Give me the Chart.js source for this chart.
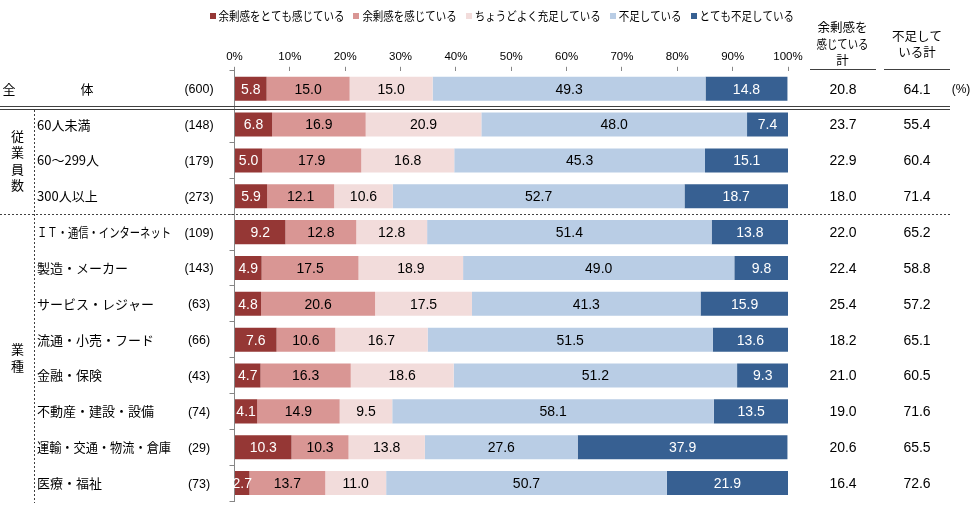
<!DOCTYPE html>
<html><head><meta charset="utf-8">
<script src="https://cdn.jsdelivr.net/npm/chart.js@4.4.1/dist/chart.umd.min.js"></script>
<style>html,body{margin:0;padding:0;background:#fff}canvas{display:block}</style>
</head><body>
<canvas id="c" width="976" height="510"></canvas>
<script>
const categories = ['全体','60人未満','60～299人','300人以上','ＩＴ・通信・インターネット','製造・メーカー','サービス・レジャー','流通・小売・フード','金融・保険','不動産・建設・設備','運輸・交通・物流・倉庫','医療・福祉'];
const sampleSizes = ['(600)','(148)','(179)','(273)','(109)','(143)','(63)','(66)','(43)','(74)','(29)','(73)'];
const seriesNames = ['余剰感をとても感じている','余剰感を感じている','ちょうどよく充足している','不足している','とても不足している'];
const verySurplus = [5.8,6.8,5.0,5.9,9.2,4.9,4.8,7.6,4.7,4.1,10.3,2.7];
const surplus = [15.0,16.9,17.9,12.1,12.8,17.5,20.6,10.6,16.3,14.9,10.3,13.7];
const adequate = [15.0,20.9,16.8,10.6,12.8,18.9,17.5,16.7,18.6,9.5,13.8,11.0];
const shortage = [49.3,48.0,45.3,52.7,51.4,49.0,41.3,51.5,51.2,58.1,27.6,50.7];
const severeShortage = [14.8,7.4,15.1,18.7,13.8,9.8,15.9,13.6,9.3,13.5,37.9,21.9];
const surplusTotal = [20.8,23.7,22.9,18.0,22.0,22.4,25.4,18.2,21.0,19.0,20.6,16.4];
const shortageTotal = [64.1,55.4,60.4,71.4,65.2,58.8,57.2,65.1,60.5,71.6,65.5,72.6];
const groupLabels = [{text:'従業員数', from:1, to:3},{text:'業種', from:4, to:11}];
const totalHeaders = [['余剰感を','感じている','計'],['不足して','いる計']];

const colors = ['#953735','#D99694','#F2DCDB','#B9CDE5','#376092'];
const labelColors = ['#ffffff','#000000','#000000','#000000','#ffffff'];
const seriesData = [verySurplus, surplus, adequate, shortage, severeShortage];

const JP = '"Noto Sans CJK JP", sans-serif';
const AR = '"Liberation Sans", Arial, sans-serif';

const overlay = {
  id:'overlay',
  afterDatasetsDraw(chart){
    const ctx = chart.ctx;
    ctx.save();
    ctx.font = '14px ' + AR;
    ctx.textAlign = 'center';
    ctx.textBaseline = 'middle';
    chart.data.datasets.forEach((ds, di) => {
      const meta = chart.getDatasetMeta(di);
      meta.data.forEach((bar, i) => {
        const v = ds.data[i];
        ctx.fillStyle = labelColors[di];
        ctx.fillText(v.toFixed(1), (bar.x + bar.base) / 2, bar.y + 1);
      });
    });
    ctx.restore();
  },
  afterDraw(chart){
    const ctx = chart.ctx;
    const ys = chart.scales.y;
    const area = chart.chartArea;
    const rowY = i => ys.getPixelForValue(i);
    const boundary = i => (rowY(i) + rowY(i+1)) / 2;
    ctx.save();
    // legend
    ctx.font = '12px ' + JP;
    ctx.textBaseline = 'middle';
    ctx.textAlign = 'left';
    const box = 6, gapBox = 3, gapItem = 9;
    const legLeft = 209.5, legRight = 794;
    const widths = seriesNames.map(s => ctx.measureText(s).width);
    const fixed = seriesNames.length*(box+gapBox) + (seriesNames.length-1)*gapItem;
    const sumW = widths.reduce((a,b)=>a+b,0);
    const scale = Math.min(1, (legRight - legLeft - fixed) / sumW);
    let lx = legLeft;
    const ly = 16.5;
    seriesNames.forEach((s, i) => {
      const w = widths[i] * scale;
      ctx.fillStyle = colors[i];
      ctx.fillRect(Math.round(lx), 13, box, box);
      ctx.fillStyle = '#000';
      ctx.fillText(s, lx + box + gapBox, ly, w);
      lx += box + gapBox + w + gapItem;
    });
    // row labels
    ctx.fillStyle = '#000';
    categories.forEach((c, i) => {
      const y = rowY(i);
      ctx.font = '13px ' + JP;
      ctx.textAlign = 'left';
      if (i === 0) {
        ctx.textAlign = 'center';
        ctx.fillText(c[0], 9, y);
        ctx.fillText(c[1], 87, y);
      } else {
        ctx.fillText(c, 37, y, 134);
      }
      ctx.font = '12.5px ' + AR;
      ctx.textAlign = 'center';
      ctx.fillText(sampleSizes[i], 199, y + 1);
      ctx.font = '14px ' + AR;
      ctx.fillText(surplusTotal[i].toFixed(1), 843, y + 1);
      ctx.fillText(shortageTotal[i].toFixed(1), 917, y + 1);
    });
    ctx.font = '12px ' + AR;
    ctx.textAlign = 'center';
    ctx.fillText('(%)', 961, rowY(0) + 1);
    // group labels (vertical)
    ctx.font = '13px ' + JP;
    groupLabels.forEach(g => {
      const cy = (rowY(g.from) + rowY(g.to)) / 2;
      const n = g.text.length, step = 16.5;
      for (let k = 0; k < n; k++) {
        ctx.fillText(g.text[k], 17.5, cy + (k - (n-1)/2) * step);
      }
    });
    // headers
    ctx.font = '12.5px ' + JP;
    const hx = [842.5, 917];
    totalHeaders.forEach((lines, h) => {
      const n = lines.length, step = 16.5, cy = 44;
      lines.forEach((t, k) => ctx.fillText(t, hx[h], cy + (k - (n-1)/2) * step, 52));
    });
    ctx.strokeStyle = '#404040';
    ctx.lineWidth = 1;
    ctx.beginPath();
    ctx.moveTo(810, 69.5); ctx.lineTo(876, 69.5);
    ctx.moveTo(884, 69.5); ctx.lineTo(950, 69.5);
    ctx.stroke();
    // double line under 全体
    const b0 = Math.round(boundary(0));
    ctx.beginPath();
    ctx.moveTo(0, b0 - 0.5); ctx.lineTo(950, b0 - 0.5);
    ctx.moveTo(0, b0 + 2.5); ctx.lineTo(950, b0 + 2.5);
    ctx.stroke();
    // dotted separators
    ctx.setLineDash([2, 2]);
    const b3 = Math.round(boundary(3));
    ctx.beginPath();
    ctx.moveTo(0, b3 + 0.5); ctx.lineTo(950, b3 + 0.5);
    ctx.stroke();
    ctx.beginPath();
    ctx.moveTo(34.5, b0 + 3); ctx.lineTo(34.5, area.bottom + 2);
    ctx.stroke();
    ctx.restore();
  }
};

new Chart(document.getElementById('c'), {
  type: 'bar',
  data: {
    labels: categories,
    datasets: seriesNames.map((n, i) => ({
      label: n,
      data: seriesData[i],
      backgroundColor: colors[i],
      borderWidth: 0,
      barPercentage: 0.67,
      categoryPercentage: 1.0
    }))
  },
  options: {
    indexAxis: 'y',
    responsive: false,
    animation: false,
    devicePixelRatio: 1,
    layout: { padding: { left: 229.5, right: 188, top: 47, bottom: 9 } },
    plugins: { legend: { display: false }, tooltip: { enabled: false } },
    scales: {
      x: {
        position: 'top',
        stacked: true,
        min: 0, max: 100,
        ticks: { stepSize: 10, callback: v => v + '%', color: '#000', font: { family: AR, size: 11.5 }, padding: 3, maxRotation: 0 },
        grid: { drawOnChartArea: false, drawTicks: true, tickLength: 4, color: '#868686' },
        border: { display: false }
      },
      y: {
        stacked: true,
        offset: true,
        ticks: { display: false },
        grid: { drawOnChartArea: false, drawTicks: true, tickLength: 5, color: '#868686', offset: true },
        border: { display: true, color: '#868686' }
      }
    }
  },
  plugins: [overlay]
});
</script>
</body></html>
